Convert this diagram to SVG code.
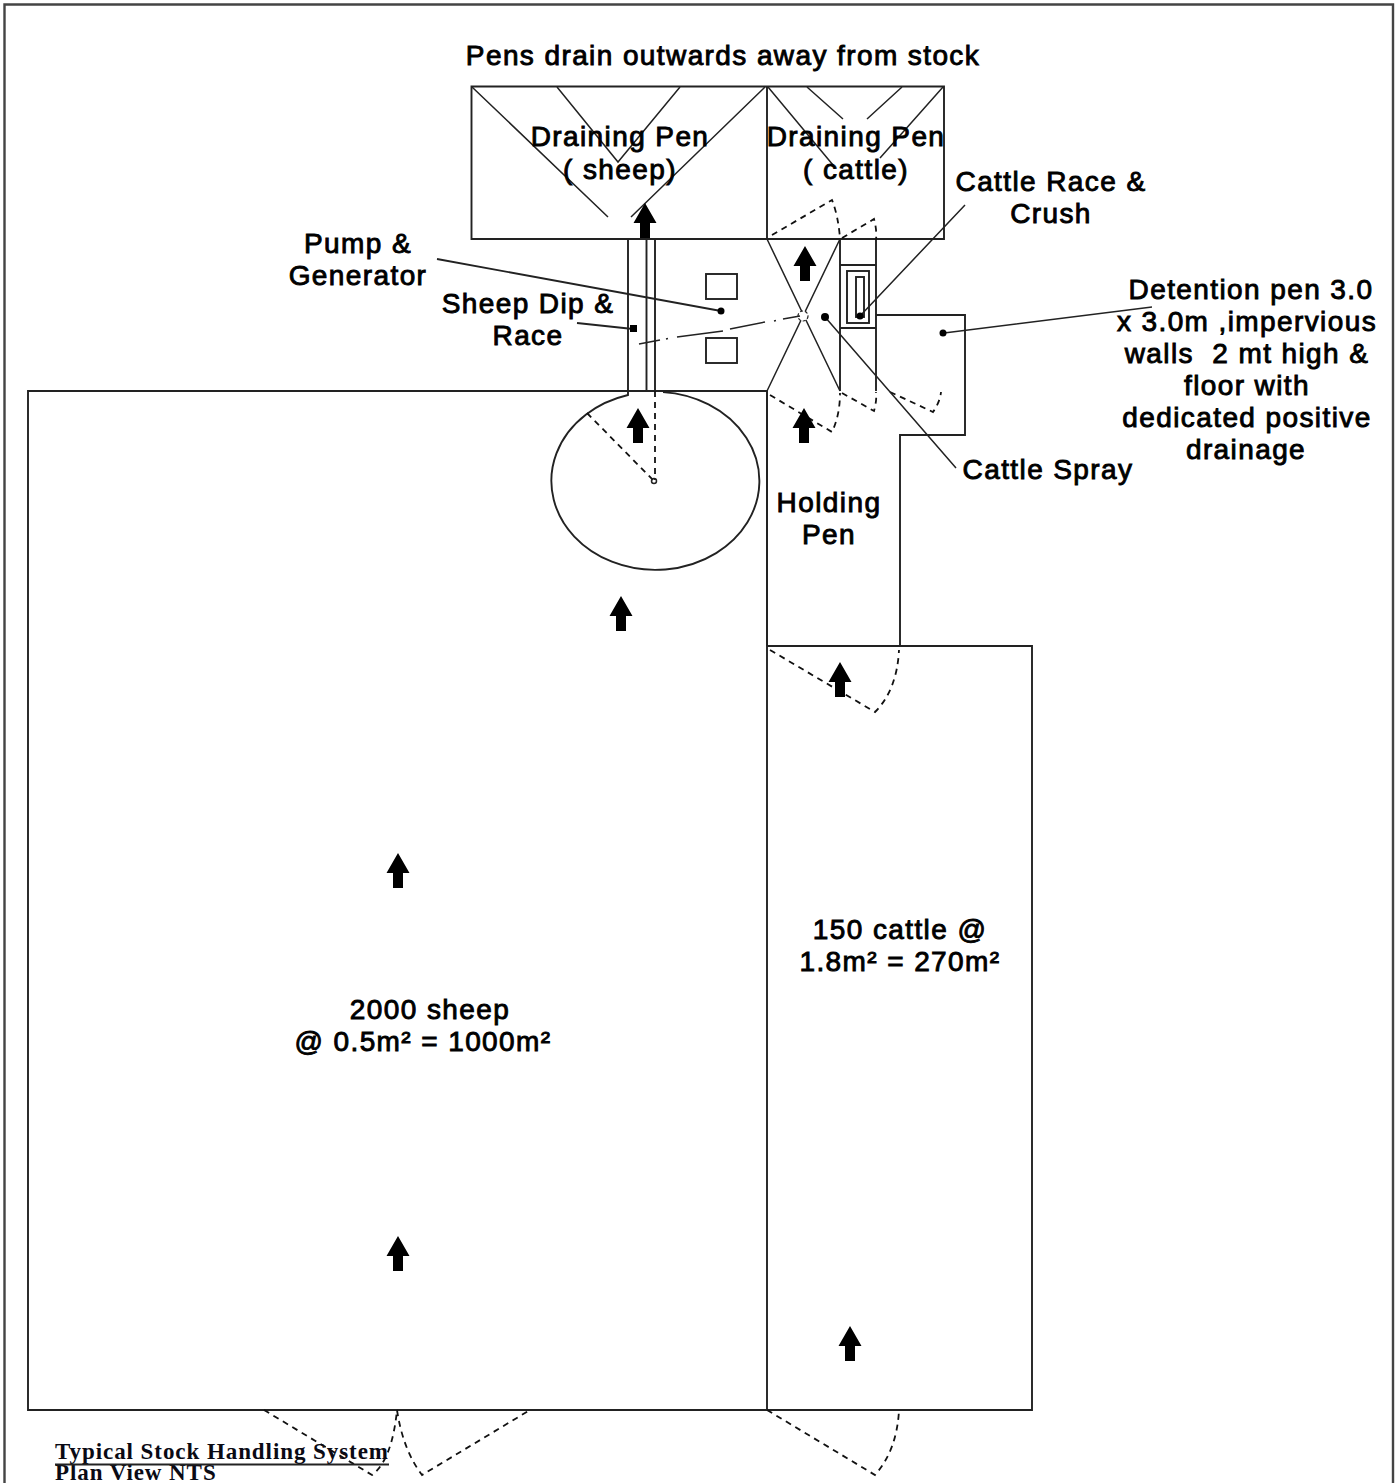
<svg xmlns="http://www.w3.org/2000/svg" width="1399" height="1483" viewBox="0 0 1399 1483">
<defs>
<path id="up" d="M0 0L11.500 20H5V35H-5V20H-11.500Z" fill="#000"/>
</defs>
<style>
.l{fill:none;stroke:#222;stroke-width:1.900}
.t{fill:none;stroke:#222;stroke-width:1.500}
.d{fill:none;stroke:#111;stroke-width:1.800;stroke-dasharray:6 5}
.b{fill:none;stroke:#444;stroke-width:2.400}
.x{font-family:"Liberation Sans",Arial,sans-serif;font-size:28px;letter-spacing:1.400px;fill:#000;stroke:#000;stroke-width:.9;text-anchor:middle}
.s{font-family:"Liberation Serif","Times New Roman",serif;font-size:23px;letter-spacing:.93px;font-weight:bold;fill:#0a0a14}
.dot{fill:#000}
</style>
<rect width="1399" height="1483" fill="#fff"/>
<path class="b" d="M4.500 1483V4.500H1393V1483"/>
<g id="sheep-pen"><path class="l" d="M28 391H767V1410H28Z"/></g>
<g id="cattle-pen"><path class="l" d="M767 646H1032V1410H767"/></g>
<g id="holding-pen"><path class="l" d="M767 391V646M900 646V435H965V391"/></g>
<g id="draining-pens">
<path class="l" d="M471.500 86.500H944V239H471.500ZM767 86.500V239"/>
<path class="t" d="M472 87L608 217M557 87L618 162L680 87M765 87L631 217M768 87L833 165M807 87L843 119M902 87L867 119M943 87L880 158"/>
</g>
<g id="sheep-race"><path class="l" d="M628 239V391M646.500 239V391M655 239V391"/>
<rect class="l" x="706" y="274" width="31" height="25"/><rect class="l" x="706" y="338" width="31" height="25"/></g>
<g id="cattle-race"><path class="l" d="M840 239V391M876 239V391M840 265H876M840 328H876"/>
<rect class="l" x="847" y="271" width="22" height="52"/><rect class="l" x="856" y="277" width="8" height="40"/></g>
<g id="spray"><path class="t" d="M767 239L840 391M840 239L767 391"/><circle cx="803" cy="316" r="5" fill="#fff" stroke="#222" stroke-width="1.200" stroke-dasharray="3 2"/></g>
<g id="detention"><path class="l" d="M876 315H965V391"/></g>
<path class="l" d="M628 391V395A104 89 0 1 0 663 392.100" id="circular-pen"/>
<g id="gates">
<path class="d" d="M655 391V480M587 413L653 480"/>
<circle class="t" cx="654" cy="481" r="2.500"/>
<path class="d" d="M772 235L832 200Q838 215 840 238M842 238L874 219Q877 230 876 240"/>
<path class="d" d="M770 395L832 432Q840 415 840 393M842 393L874 411Q877 400 876 392M890 392L933 412Q940 402 941 392"/>
<path class="d" d="M770 650L875 712Q897 690 899 650"/>
<path class="d" d="M264 1410L372 1475Q392 1460 397 1410M397 1410Q403 1450 422 1475L530 1410"/>
<path class="d" d="M767 1410L875 1475Q897 1450 899 1410"/>
</g>
<g id="arrows">
<use href="#up" x="645" y="203"/><use href="#up" x="805" y="246"/><use href="#up" x="638" y="408"/><use href="#up" x="804" y="408"/><use href="#up" x="621" y="596"/><use href="#up" x="840" y="662"/><use href="#up" x="398" y="853"/><use href="#up" x="398" y="1236"/><use href="#up" x="850" y="1326"/>
</g>
<g id="leaders">
<path class="l" d="M437 259L721 311M577 323L633 329"/>
<path class="t" d="M639 344L660 340M666 339L668 338.500M677 337L723 331M730 329L765 322M774 321L776 320.500M783 319L800 316"/>
<path class="t" d="M965 205L860 316M825 317L956 468M944 333L1152 307"/>
<circle class="dot" cx="721" cy="311" r="3.500"/><rect class="dot" x="630" y="325" width="7" height="7"/><circle class="dot" cx="860" cy="316" r="3.500"/><circle class="dot" cx="825" cy="317" r="4"/><circle class="dot" cx="943" cy="333" r="3.500"/>
</g>
<g id="labels">
<text class="x" x="723" y="65">Pens drain outwards away from stock</text>
<text class="x" x="620" y="146">Draining Pen</text><text class="x" x="620" y="179">( sheep)</text>
<text class="x" x="856" y="146">Draining Pen</text><text class="x" x="856" y="179">( cattle)</text>
<text class="x" x="1051" y="191">Cattle Race &amp;</text><text class="x" x="1051" y="223">Crush</text>
<text class="x" x="358" y="253">Pump &amp;</text><text class="x" x="358" y="285">Generator</text>
<text class="x" x="528" y="313">Sheep Dip &amp;</text><text class="x" x="528" y="345">Race</text>
<text class="x" x="1251" y="299">Detention pen 3.0</text><text class="x" x="1247" y="331">x 3.0m ,impervious</text><text class="x" x="1247" y="363" xml:space="preserve">walls  2 mt high &amp;</text><text class="x" x="1247" y="395">floor with</text><text class="x" x="1247" y="427">dedicated positive</text><text class="x" x="1246" y="459">drainage</text>
<text class="x" x="1048" y="479">Cattle Spray</text>
<text class="x" x="829" y="512">Holding</text><text class="x" x="829" y="544">Pen</text>
<text class="x" x="900" y="939">150 cattle @</text><text class="x" x="900" y="971">1.8m² = 270m²</text>
<text class="x" x="430" y="1019">2000 sheep</text><text class="x" x="423" y="1051">@ 0.5m² = 1000m²</text>
<text class="s" x="55" y="1459">Typical Stock Handling System</text><text class="s" x="55" y="1480">Plan View NTS</text>
<path class="l" d="M55 1464.500H389"/>
</g>
</svg>
